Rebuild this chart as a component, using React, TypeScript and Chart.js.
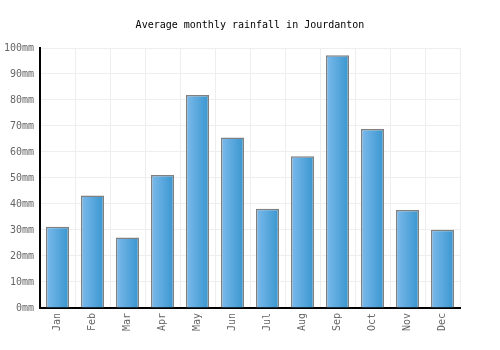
import React, { useEffect, useRef } from "react";
import { Chart, registerables } from "chart.js";

Chart.register(...registerables);

const months = ["Jan", "Feb", "Mar", "Apr", "May", "Jun", "Jul", "Aug", "Sep", "Oct", "Nov", "Dec"];
const rainfall = [31.2, 43.3, 27.1, 51.1, 81.9, 65.6, 38.2, 58.4, 97.2, 68.8, 37.7, 30.1];
const titleText = "Average monthly rainfall in Jourdanton";

export default function App() {
  const ref = useRef<HTMLCanvasElement>(null);
  useEffect(() => {
    document.body.style.margin = "0";
    const canvas = ref.current!;
    const chart = new Chart(canvas, {
      type: "bar",
      data: {
        labels: months,
        datasets: [
          {
            data: rainfall,
            borderColor: "#808080",
            borderWidth: 1.5,
            barPercentage: 0.66,
            categoryPercentage: 1,
            backgroundColor: (ctx: any) => {
              const c = ctx.chart;
              const xs = c.scales?.x;
              if (!xs || ctx.dataIndex === undefined) return "#5aa8e0";
              const x = xs.getPixelForValue(ctx.dataIndex);
              const w = (xs.width / months.length) * 0.66;
              if (!isFinite(x) || !isFinite(w) || w <= 0) return "#5aa8e0";
              const g = c.ctx.createLinearGradient(x - w / 2, 0, x + w / 2, 0);
              g.addColorStop(0, "#7cbaec");
              g.addColorStop(1, "#3896cf");
              return g;
            },
          },
        ],
      },
      options: {
        responsive: false,
        animation: false,
        layout: { padding: { left: 0, right: 0, top: 0, bottom: 14 } },
        plugins: {
          legend: { display: false },
          tooltip: { enabled: false },
          title: {
            display: true,
            text: titleText,
            color: "#000",
            font: { family: "DejaVu Sans Mono", size: 10, weight: "normal" },
            padding: { top: 19, bottom: 17 },
          },
        },
        scales: {
          x: {
            grid: { color: "#eeeeee", offset: true, drawTicks: false },
            border: { color: "#000", width: 2 },
            ticks: {
              color: "#666",
              font: { family: "DejaVu Sans Mono", size: 10 },
              maxRotation: 90,
              minRotation: 90,
              padding: 5,
            },
          },
          y: {
            min: 0,
            max: 100,
            grid: { color: "#eeeeee", drawTicks: false },
            border: { color: "#000", width: 2 },
            ticks: {
              stepSize: 10,
              color: "#666",
              font: { family: "DejaVu Sans Mono", size: 10 },
              padding: 6,
              callback: (v: any) => v + "mm",
            },
            afterFit: (s: any) => {
              s.width = 40;
            },
          },
          yRight: {
            position: "right",
            display: true,
            grid: { display: false },
            border: { display: false },
            ticks: { display: false },
            afterFit: (s: any) => {
              s.width = 40;
            },
          },
        },
      },
    });
    return () => chart.destroy();
  }, []);
  return <canvas ref={ref} width={500} height={350} style={{ display: "block" }} />;
}
